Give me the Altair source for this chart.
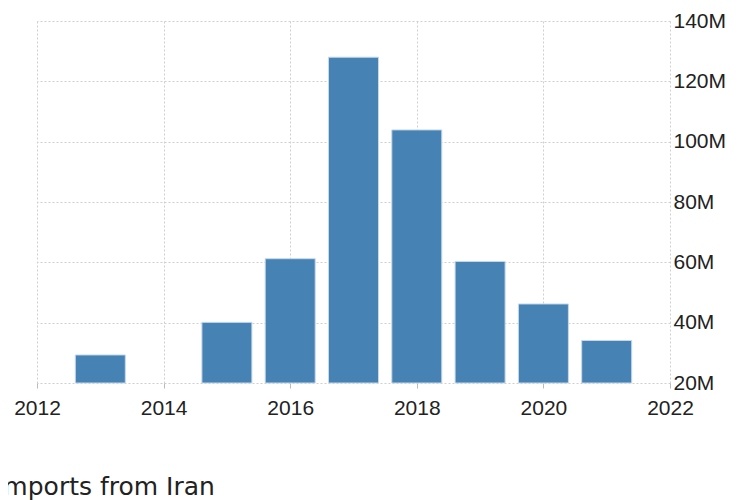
import altair as alt
import pandas as pd

years = [2013, 2015, 2016, 2017, 2018, 2019, 2020, 2021]
imports = [29.3e6, 40.1e6, 61.2e6, 128.0e6, 103.9e6, 60.3e6, 46.2e6, 34.1e6]
x_ticks = [2012, 2014, 2016, 2018, 2020, 2022]
y_ticks = [20e6, 40e6, 60e6, 80e6, 100e6, 120e6, 140e6]

df = pd.DataFrame({"year": years, "value": imports})

label_font = "Liberation Sans"

chart = alt.Chart(df).mark_bar(
    width=50, color="#4682b4", stroke="#c6d9ea", strokeWidth=1
).encode(
    x=alt.X("year:Q",
            scale=alt.Scale(domain=[2012, 2022], nice=False, zero=False, padding=0),
            axis=alt.Axis(values=x_ticks, format="d", title=None, domain=False,
                          grid=True, gridColor="#cfcfcf", gridDash=[2, 2],
                          ticks=True, tickSize=5, tickColor="#bbbbbb",
                          labelPadding=9, labelFont=label_font, labelFontSize=21,
                          labelColor="#222222", labelFlush=False)),
    y=alt.Y("value:Q",
            scale=alt.Scale(domain=[20e6, 140e6], nice=False, zero=False),
            axis=alt.Axis(orient="right", values=y_ticks, title=None, domain=False,
                          grid=True, gridColor="#cfcfcf", gridDash=[2, 2],
                          ticks=False, labelPadding=3,
                          labelExpr="format(datum.value / 1000000, 'd') + 'M'",
                          labelFont=label_font, labelFontSize=21,
                          labelColor="#222222", labelBaseline="middle",
                          labelFlush=False)),
    y2=alt.datum(20e6),
).properties(
    width=633,
    height=362,
    autosize=alt.AutoSizeParams(type="none"),
    padding={"left": 29, "top": 13, "right": 60, "bottom": 117},
    title=alt.TitleParams(
        "Imports from Iran", orient="bottom", anchor="start", frame="group",
        font="DejaVu Sans", fontSize=25, fontWeight="normal",
        color="#222222", dx=-41, offset=77, baseline="alphabetic",
    ),
).configure_view(stroke=None)

chart.save("out.html", embed_options={"renderer": "svg", "actions": False})
